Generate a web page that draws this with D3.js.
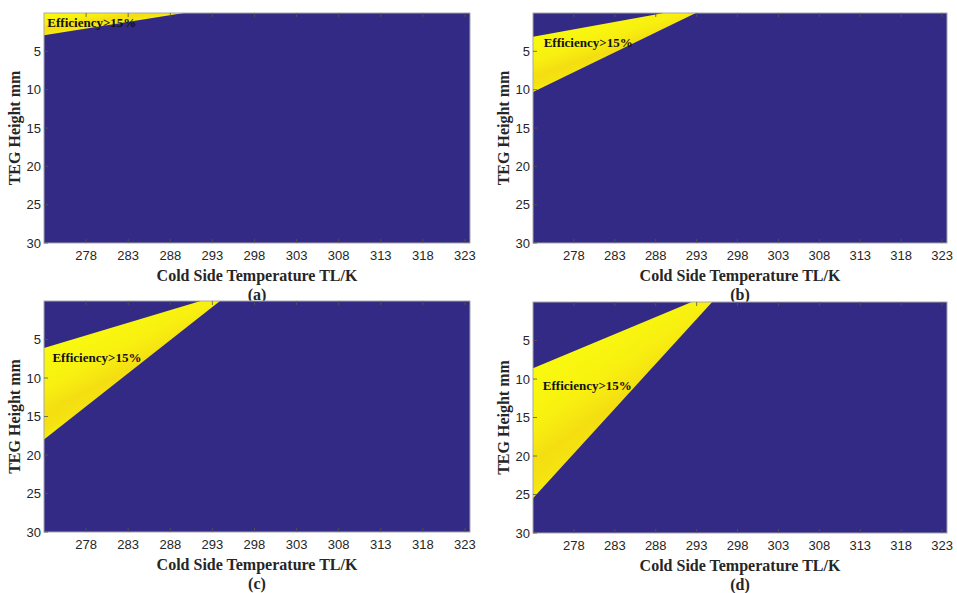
<!DOCTYPE html>
<html>
<head>
<meta charset="utf-8">
<script src="https://cdn.jsdelivr.net/npm/d3@7"></script>
<style>
  body { margin: 0; background: #fff; }
  .tick-label { font-family: "Liberation Sans", Arial, sans-serif; font-size: 13px; fill: #262626; }
  .axis-title { font-family: "Liberation Serif", "Times New Roman", serif; font-size: 16px; font-weight: bold; fill: #262626; }
  .note { font-family: "Liberation Serif", "Times New Roman", serif; font-size: 13px; font-weight: bold; fill: #111; }
</style>
</head>
<body>
<svg id="chart" width="957" height="593"></svg>
<script>
// panel ids and captions
const panelIds = ['a', 'b', 'c', 'd']
const captions = ['(a)', '(b)', '(c)', '(d)']

// axes
const tempDomain = [273, 323.6]
const heightDomain = [0, 30]
const xTicks = [278, 283, 288, 293, 298, 303, 308, 313, 318, 323]
const yTicks = [5, 10, 15, 20, 25, 30]

// efficiency > 15% wedge per panel
// upper edge: height at 273 K -> crosses 0 mm at upperT
// lower edge: height at 273 K -> crosses 0 mm at lowerT
const upperH = [0, 3.1, 6.1, 8.6]
const upperT = [273, 289.0, 291.6, 292.4]
const lowerH = [2.9, 10.3, 18.0, 25.5]
const lowerT = [289.6, 292.9, 293.9, 294.9]

// annotation anchor (T, H) per panel
const noteT = [273.4, 274.3, 274.0, 274.2]
const noteH = [1.2, 3.9, 7.4, 10.9]
const noteText = 'Efficiency>15%'

const xTitle = 'Cold Side Temperature TL/K'
const yTitle = 'TEG Height mm'

const svg = d3.select('#chart')
const frames = [
    {left: 44, top: 13, width: 426, height: 230},
    {left: 533, top: 13, width: 414, height: 230},
    {left: 44, top: 301, width: 426, height: 231},
    {left: 533, top: 302, width: 414, height: 231}
]

const blue = '#322a84'

const defs = svg.append('defs')

panelIds.forEach((id, i) => {
    const f = frames[i]
    const x = d3.scaleLinear().domain(tempDomain).range([0, f.width])
    const y = d3.scaleLinear().domain(heightDomain).range([0, f.height])

    const g = svg.append('g')
        .attr('transform', `translate(${f.left},${f.top})`)

    defs.append('clipPath').attr('id', 'clip-' + id)
        .append('rect').attr('width', f.width).attr('height', f.height)

    g.append('rect')
        .attr('width', f.width).attr('height', f.height)
        .attr('fill', blue)

    // gradient across the wedge, perpendicular to its bisector
    const p = [x(273), y(upperH[i])]
    const q = [x(273), y(lowerH[i])]
    const du = [x(upperT[i]) - p[0], y(0) - p[1]]
    const dl = [x(lowerT[i]) - q[0], y(0) - q[1]]
    const nu = Math.hypot(du[0], du[1]) || 1
    const nl = Math.hypot(dl[0], dl[1]) || 1
    let b = [du[0] / nu + dl[0] / nl, du[1] / nu + dl[1] / nl]
    const nb = Math.hypot(b[0], b[1])
    b = [b[0] / nb, b[1] / nb]
    const n = [b[1], -b[0]]
    const dist = (q[0] - p[0]) * n[0] + (q[1] - p[1]) * n[1]

    const grad = defs.append('linearGradient')
        .attr('id', 'grad-' + id)
        .attr('gradientUnits', 'userSpaceOnUse')
        .attr('x1', p[0]).attr('y1', p[1])
        .attr('x2', p[0] + n[0] * dist).attr('y2', p[1] + n[1] * dist)
    grad.append('stop').attr('offset', 0).attr('stop-color', '#f9fa0f')
    grad.append('stop').attr('offset', 0.45).attr('stop-color', '#f8f010')
    grad.append('stop').attr('offset', 0.72).attr('stop-color', '#f4de12')
    grad.append('stop').attr('offset', 0.9).attr('stop-color', '#f5e311')
    grad.append('stop').attr('offset', 1).attr('stop-color', '#f7ee0f')

    const wedge = [
        [273, upperH[i]],
        [upperT[i], 0],
        [lowerT[i], 0],
        [273, lowerH[i]]
    ]
    g.append('path')
        .attr('clip-path', `url(#clip-${id})`)
        .attr('d', d3.line().x(d => x(d[0])).y(d => y(d[1]))(wedge) + 'Z')
        .attr('fill', `url(#grad-${id})`)

    // box
    g.append('rect')
        .attr('width', f.width).attr('height', f.height)
        .attr('fill', 'none')
        .attr('stroke', '#a8a8a8')
        .attr('stroke-width', 1)

    // ticks inside, both sides
    const tk = 4
    g.selectAll('.xt-b').data(xTicks).join('line')
        .attr('x1', d => x(d)).attr('x2', d => x(d))
        .attr('y1', f.height).attr('y2', f.height - tk)
        .attr('stroke', '#555').attr('stroke-width', 0.8)
    g.selectAll('.xt-t').data(xTicks).join('line')
        .attr('x1', d => x(d)).attr('x2', d => x(d))
        .attr('y1', 0).attr('y2', tk)
        .attr('stroke', '#555').attr('stroke-width', 0.8)
    g.selectAll('.yt-l').data(yTicks).join('line')
        .attr('x1', 0).attr('x2', tk)
        .attr('y1', d => y(d)).attr('y2', d => y(d))
        .attr('stroke', '#555').attr('stroke-width', 0.8)

    g.selectAll('.xl').data(xTicks).join('text')
        .attr('class', 'tick-label')
        .attr('x', d => x(d)).attr('y', f.height + 17)
        .attr('text-anchor', 'middle')
        .text(d => d)
    g.selectAll('.yl').data(yTicks).join('text')
        .attr('class', 'tick-label')
        .attr('x', -3).attr('y', d => y(d) + 4.5)
        .attr('text-anchor', 'end')
        .text(d => d)

    g.append('text')
        .attr('class', 'note')
        .attr('x', x(noteT[i])).attr('y', y(noteH[i]) + 4.5)
        .text(noteText)

    g.append('text')
        .attr('class', 'axis-title')
        .attr('x', f.width / 2).attr('y', f.height + 38)
        .attr('text-anchor', 'middle')
        .text(xTitle)
    g.append('text')
        .attr('class', 'axis-title')
        .attr('x', f.width / 2).attr('y', f.height + 57)
        .attr('text-anchor', 'middle')
        .text(captions[i])
    g.append('text')
        .attr('class', 'axis-title')
        .attr('transform', `translate(-24,${f.height / 2}) rotate(-90)`)
        .attr('text-anchor', 'middle')
        .text(yTitle)
})
</script>
</body>
</html>
